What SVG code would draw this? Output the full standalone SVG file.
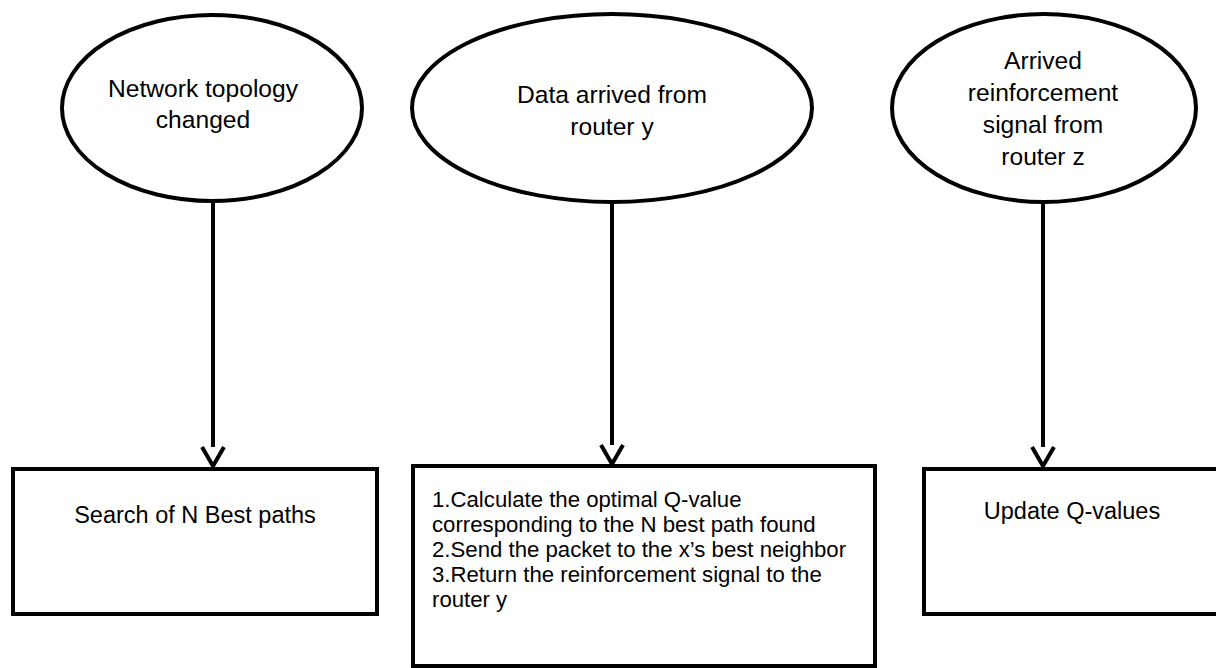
<svg xmlns="http://www.w3.org/2000/svg" width="1216" height="668" viewBox="0 0 1216 668">
<style>
.shape{fill:#fff;stroke:#000;stroke-width:4}
.conn{fill:none;stroke:#000;stroke-width:4}
text{font-family:"Liberation Sans",Arial,sans-serif;fill:#000}
.e{font-size:24.6px;text-anchor:middle}
.t{font-size:23.5px;text-anchor:middle}
.b{font-size:22.2px}
</style>
<rect width="1216" height="668" fill="#fff"/>
<g id="connectors">
<path class="conn" d="M213,201 V447"/>
<path class="conn" d="M612,202 V445"/>
<path class="conn" d="M1043,202 V447"/>
<path class="conn" d="M202,447 L213,466 L224,447"/>
<path class="conn" d="M601,445 L612,464 L623,445"/>
<path class="conn" d="M1032,447 L1043,466 L1054,447"/>
</g>
<g id="n1">
<ellipse class="shape" cx="212" cy="108" rx="150" ry="93"/>
<text class="e" x="203" y="97">Network topology</text>
<text class="e" x="203" y="128">changed</text>
</g>
<g id="n2">
<ellipse class="shape" cx="612" cy="108" rx="200" ry="94"/>
<text class="e" x="612" y="103">Data arrived from</text>
<text class="e" x="612" y="135">router y</text>
</g>
<g id="n3">
<ellipse class="shape" cx="1044" cy="108" rx="152" ry="94"/>
<text class="e" x="1043" y="69">Arrived</text>
<text class="e" x="1043" y="101">reinforcement</text>
<text class="e" x="1043" y="133">signal from</text>
<text class="e" x="1043" y="165">router z</text>
</g>
<g id="n4">
<rect class="shape" x="13" y="469" width="364" height="145"/>
<text class="t" x="195" y="523">Search of N Best paths</text>
</g>
<g id="n5">
<rect class="shape" x="413" y="466" width="462" height="200"/>
<text class="b" x="432" y="507">1.Calculate the optimal Q-value</text>
<text class="b" x="432" y="532">corresponding to the N best path found</text>
<text class="b" x="432" y="557">2.Send the packet to the x’s best neighbor</text>
<text class="b" x="432" y="582">3.Return the reinforcement signal to the</text>
<text class="b" x="432" y="607">router y</text>
</g>
<g id="n6">
<rect class="shape" x="924" y="469" width="300" height="145"/>
<text class="t" x="1072" y="519">Update Q-values</text>
</g>
</svg>
